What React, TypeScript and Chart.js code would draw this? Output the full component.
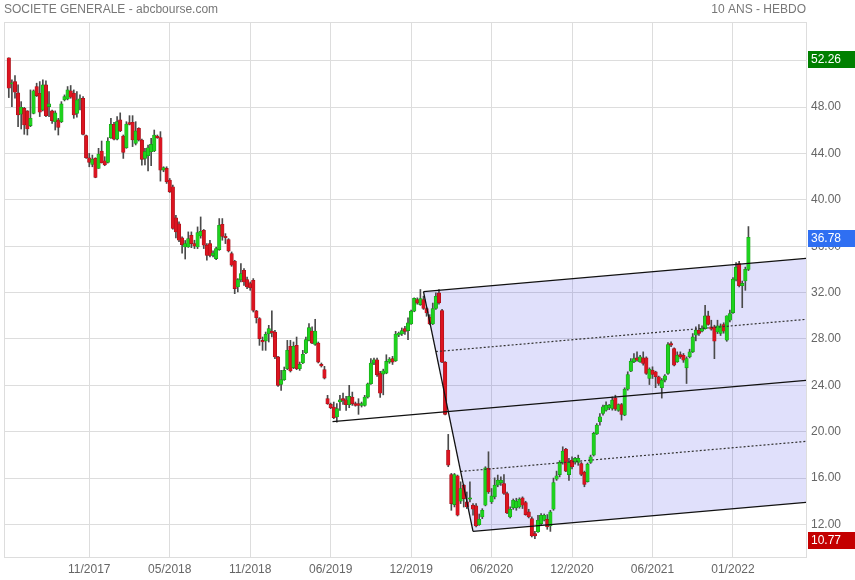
import React, { useEffect, useRef } from 'react';
import { Chart, registerables } from 'chart.js';

Chart.register(...registerables);

// Weekly candles (index 0 = first week shown)
const OPEN = [
  52.26, 50.0, 50.21, 49.23, 47.4, 47.91, 47.68, 46.41, 47.47, 49.78,
  49.2, 47.76, 49.92, 48.05, 47.68, 46.75, 46.9, 46.75, 48.63, 48.71,
  49.41, 49.2, 47.47, 48.63, 48.77, 45.54, 43.64, 43.06, 43.58, 42.72,
  44.22, 43.38, 43.24, 45.37, 46.52, 45.25, 46.9, 45.51, 44.5, 46.67,
  46.7, 44.88, 46.18, 45.17, 43.58, 43.81, 44.16, 44.22, 45.51, 45.37,
  42.57, 42.72, 41.71, 41.13, 38.45, 37.93, 36.72, 35.94, 35.94, 36.95,
  36.23, 35.94, 36.89, 37.38, 36.09, 36.23, 35.22, 34.94, 35.71, 37.9,
  36.86, 36.58, 35.37, 34.73, 32.49, 33.12, 33.93, 33.12, 32.78, 33.06,
  30.42, 29.76, 27.88, 27.83, 28.46, 28.69, 28.6, 26.45, 24.09, 24.49,
  25.44, 27.37, 25.53, 27.45, 25.44, 25.93, 26.79, 27.88, 28.69, 27.54,
  27.65, 25.81, 25.35, 22.85, 22.36, 22.13, 21.27, 22.56, 22.85, 22.76,
  22.33, 22.99, 22.42, 22.42, 22.27, 22.27, 22.99, 24.14, 25.92, 26.21,
  25.06, 24.97, 25.06, 26.01, 26.3, 26.12, 28.32, 28.43, 28.89, 28.72,
  29.3, 30.4, 31.4, 30.97, 31.4, 30.63, 29.88, 29.3, 30.63, 31.98,
  30.45, 26.0, 18.42, 16.31, 13.71, 16.2, 14.0, 15.39, 13.95, 14.17,
  13.66, 13.6, 11.98, 12.65, 13.66, 16.83, 13.94, 14.38, 15.39, 15.59,
  15.53, 14.67, 12.65, 13.43, 13.43, 13.51, 14.29, 13.89, 13.08, 12.5,
  11.2, 11.35, 12.07, 12.36, 12.44, 11.87, 13.31, 15.9, 16.3, 17.35,
  18.5, 16.3, 17.55, 17.4, 17.35, 17.26, 16.5, 15.7, 17.35, 17.98,
  19.8, 20.86, 21.57, 21.86, 22.06, 22.0, 22.93, 21.83, 22.35, 21.43,
  23.67, 25.22, 26.03, 26.37, 26.03, 26.37, 26.37, 24.6, 25.31, 25.17,
  24.74, 23.79, 24.45, 25.02, 27.61, 27.18, 26.03, 26.66, 26.6, 25.51,
  26.46, 26.89, 28.33, 28.76, 28.67, 28.9, 29.99, 29.05, 29.05, 28.61,
  28.47, 29.25, 27.9, 29.62, 30.28, 33.1, 34.5, 32.6, 33.0, 34.0,
];

const HIGH = [
  52.26, 50.36, 50.73, 49.92, 48.48, 47.99, 47.7, 49.49, 49.49, 50.07,
  50.21, 50.36, 50.27, 49.35, 47.76, 47.68, 47.04, 48.48, 49.06, 49.78,
  49.87, 49.49, 49.35, 49.06, 48.92, 45.6, 44.01, 43.87, 43.64, 44.45,
  45.08, 43.73, 45.37, 47.04, 46.7, 47.19, 47.51, 45.6, 46.75, 47.27,
  47.27, 46.75, 46.23, 45.25, 44.45, 44.74, 45.31, 46.03, 45.6, 45.89,
  42.86, 42.86, 41.85, 41.28, 38.68, 38.1, 36.81, 36.5, 37.24, 37.24,
  36.52, 37.67, 38.53, 37.45, 36.23, 36.52, 35.6, 35.94, 38.39, 38.39,
  37.09, 36.66, 35.51, 34.79, 33.21, 34.5, 34.07, 33.35, 32.92, 33.21,
  30.47, 29.84, 28.17, 28.6, 29.18, 30.42, 28.75, 26.5, 25.29, 25.58,
  27.88, 27.88, 27.74, 28.17, 26.01, 27.02, 28.17, 29.32, 29.05, 29.7,
  27.74, 25.93, 25.64, 23.14, 22.47, 22.56, 22.42, 23.14, 23.34, 23.05,
  24.0, 23.42, 22.56, 22.85, 22.56, 23.14, 24.2, 26.3, 26.35, 26.35,
  25.2, 25.4, 26.64, 26.4, 26.5, 28.66, 28.6, 28.95, 29.1, 29.82,
  30.5, 31.55, 31.55, 32.27, 31.7, 30.7, 30.1, 31.1, 31.98, 32.27,
  30.55, 26.05, 19.77, 16.4, 16.4, 16.26, 15.68, 15.45, 14.8, 15.68,
  13.8, 13.8, 12.9, 13.36, 16.98, 18.27, 15.1, 16.02, 16.26, 16.1,
  16.31, 14.8, 13.51, 14.2, 14.26, 14.3, 14.38, 14.0, 13.31, 12.65,
  11.4, 12.79, 12.94, 12.9, 12.85, 13.22, 16.0, 16.6, 17.5, 18.7,
  18.56, 17.7, 17.84, 17.8, 17.98, 17.35, 16.6, 17.3, 17.98, 19.95,
  20.7, 21.57, 22.3, 22.58, 22.35, 23.0, 23.15, 22.4, 22.44, 23.79,
  25.17, 26.32, 26.75, 26.89, 26.6, 26.89, 26.46, 25.51, 25.6, 25.22,
  24.8, 24.59, 24.94, 27.69, 27.75, 27.24, 26.89, 26.89, 26.75, 26.46,
  27.12, 28.47, 29.05, 29.25, 29.13, 30.9, 30.4, 29.62, 29.19, 29.62,
  29.3, 29.4, 30.0, 30.5, 33.3, 34.6, 34.7, 33.0, 34.2, 37.7,
];

const LOW = [
  48.83, 48.05, 48.77, 46.32, 46.12, 45.66, 45.6, 46.32, 47.42, 48.92,
  47.19, 47.68, 47.19, 47.19, 46.61, 46.03, 45.6, 46.67, 48.54, 48.63,
  48.77, 47.04, 47.13, 47.76, 45.6, 43.58, 42.86, 42.86, 41.91, 42.72,
  43.18, 42.95, 43.18, 45.31, 45.17, 45.17, 45.89, 43.58, 44.45, 46.47,
  44.6, 44.74, 45.08, 43.0, 43.01, 42.5, 42.95, 44.16, 45.31, 41.62,
  42.43, 41.42, 40.64, 37.47, 36.72, 36.4, 35.4, 34.9, 35.9, 35.88,
  35.8, 35.8, 36.7, 35.8, 34.79, 35.08, 35.08, 34.85, 35.65, 36.52,
  36.23, 35.51, 34.27, 31.91, 32.06, 32.92, 32.63, 32.35, 32.2, 30.33,
  29.38, 27.45, 27.02, 27.02, 27.74, 28.17, 26.3, 23.91, 23.57, 24.43,
  25.35, 25.15, 25.44, 25.35, 25.29, 25.87, 26.73, 27.83, 27.6, 27.45,
  25.93, 25.58, 24.55, 22.36, 21.99, 21.12, 20.83, 21.84, 22.36, 21.84,
  22.07, 22.27, 22.2, 21.5, 22.13, 22.2, 22.9, 24.09, 25.78, 24.77,
  22.95, 23.18, 25.0, 25.9, 25.8, 26.06, 28.2, 28.3, 28.4, 27.94,
  29.25, 30.35, 31.0, 30.9, 30.55, 29.96, 29.24, 29.24, 30.55, 31.0,
  25.95, 21.45, 16.98, 13.22, 13.51, 12.73, 13.8, 13.5, 13.37, 13.95,
  12.8, 11.78, 11.92, 12.5, 13.6, 14.67, 13.8, 14.2, 15.25, 15.37,
  14.58, 12.93, 12.56, 13.3, 13.22, 13.4, 13.37, 12.79, 12.56, 10.92,
  10.77, 11.3, 11.98, 12.3, 11.58, 11.4, 13.22, 15.8, 16.1, 17.2,
  16.55, 15.8, 16.8, 17.2, 17.1, 16.2, 15.25, 15.65, 17.26, 17.9,
  19.76, 20.57, 21.43, 21.78, 21.9, 21.86, 21.83, 21.75, 21.0, 21.38,
  23.58, 25.17, 25.95, 26.09, 25.98, 25.74, 24.94, 24.07, 24.59, 23.8,
  24.0, 22.9, 24.3, 24.94, 27.33, 25.68, 25.98, 26.32, 25.98, 24.16,
  26.37, 26.83, 27.84, 28.3, 28.61, 28.84, 29.19, 28.76, 26.3, 28.47,
  28.3, 28.5, 27.8, 29.47, 30.2, 33.0, 32.5, 30.7, 32.2, 33.9,
];

const CLOSE = [
  49.64, 50.1, 49.29, 47.33, 47.99, 46.47, 46.12, 47.04, 49.41, 49.0,
  47.56, 49.92, 47.27, 48.28, 46.84, 47.51, 46.26, 48.28, 48.92, 49.49,
  48.86, 47.33, 48.63, 48.71, 45.66, 43.64, 43.24, 43.52, 41.94, 43.96,
  43.21, 43.01, 45.08, 46.52, 45.25, 46.75, 45.95, 44.1, 46.55, 46.52,
  45.17, 45.95, 45.17, 43.5, 44.16, 44.5, 44.79, 45.6, 45.37, 42.57,
  42.78, 41.56, 40.7, 37.53, 37.24, 36.52, 36.14, 36.23, 36.66, 36.23,
  36.0, 37.18, 37.29, 36.09, 35.22, 35.22, 35.42, 35.8, 37.81, 36.86,
  36.75, 35.6, 34.36, 32.35, 33.12, 33.64, 32.92, 32.49, 32.43, 30.47,
  29.84, 28.03, 27.74, 28.4, 28.89, 28.52, 26.45, 24.0, 24.49, 25.29,
  27.02, 25.24, 27.37, 25.44, 25.81, 26.68, 27.94, 28.98, 27.65, 28.69,
  26.01, 25.67, 24.63, 22.42, 22.07, 21.21, 21.99, 22.76, 22.7, 22.33,
  23.05, 22.42, 22.27, 22.27, 22.42, 22.99, 24.14, 25.93, 26.21, 24.91,
  23.32, 25.26, 26.07, 26.27, 26.01, 28.43, 28.52, 28.72, 28.66, 29.39,
  30.4, 31.5, 31.1, 31.49, 30.63, 30.25, 29.3, 30.63, 31.69, 31.12,
  26.0, 21.5, 17.12, 13.8, 16.31, 12.79, 15.1, 14.23, 13.51, 14.29,
  13.31, 11.87, 12.44, 13.22, 16.89, 14.8, 14.46, 15.39, 15.82, 15.82,
  14.67, 12.99, 13.31, 14.09, 14.0, 14.18, 13.66, 12.85, 12.65, 11.0,
  11.0, 12.36, 12.79, 12.79, 11.78, 13.08, 15.62, 16.2, 17.35, 18.33,
  16.6, 17.35, 16.98, 17.7, 17.7, 16.32, 15.45, 17.2, 17.84, 19.85,
  20.57, 21.29, 22.15, 22.29, 22.29, 22.72, 21.95, 22.35, 21.49, 23.67,
  24.94, 26.09, 26.32, 26.17, 26.46, 25.89, 25.02, 25.4, 24.94, 24.74,
  24.16, 24.45, 24.82, 27.52, 27.47, 25.74, 26.6, 26.46, 26.17, 26.32,
  26.89, 28.18, 28.76, 28.47, 28.9, 29.99, 29.25, 28.84, 27.81, 29.13,
  29.13, 28.67, 30.0, 30.2, 33.16, 34.2, 32.6, 32.8, 34.0, 36.78,
];

// Axis ticks
const X_TICKS = [26, 52, 78, 104, 130, 156, 182, 208, 234];
const X_LABELS = ['11/2017', '05/2018', '11/2018', '06/2019', '12/2019', '06/2020', '12/2020', '06/2021', '01/2022'];
const Y_TICKS = [12, 16, 20, 24, 28, 32, 36, 40, 44, 48, 52];
const X_RANGE = [-1.55, 257.6];
const Y_RANGE = [9.19, 55.35];

// Andrews pitchfork pivots (week index, price)
const PIVOT_X = [104.6, 134, 150];
const PIVOT_Y = [20.87, 32.08, 11.4];

const TITLE = 'SOCIETE GENERALE - abcbourse.com';
const PERIOD = '10 ANS - HEBDO';
const FONT = '"Liberation Sans", Arial, sans-serif';

export default function App() {
  const ref = useRef<HTMLCanvasElement>(null);

  useEffect(() => {
    const canvas = ref.current;
    if (!canvas) return;
    const idx = CLOSE.map((_, i) => i);
    const up = idx.map((i) => CLOSE[i] >= OPEN[i]);
    const wicks = idx.map((i) => ({ x: i, y: [LOW[i], HIGH[i]] }));
    const bodies = idx.map((i) => ({ x: i, y: [OPEN[i], CLOSE[i]] }));

    const xEnd = X_RANGE[1];
    const [x1, x2, x3] = PIVOT_X;
    const [y1, y2, y3] = PIVOT_Y;
    const mx = (x2 + x3) / 2;
    const my = (y2 + y3) / 2;
    const slope = (my - y1) / (mx - x1);
    const ray = (x0: number, y0: number) => [
      { x: x0, y: y0 },
      { x: xEnd, y: y0 + slope * (xEnd - x0) },
    ];
    const q = (t: number) => ({ x: x2 + t * (x3 - x2), y: y2 + t * (y3 - y2) });
    const q1 = q(0.25);
    const q3 = q(0.75);
    const upper = ray(x2, y2);
    const lower = ray(x3, y3);
    const shape = [upper[0], upper[1], lower[1], lower[0], upper[0]];

    const lineDs = (data: any[], dashed: boolean) => ({
      type: 'line' as const,
      data,
      borderColor: dashed ? '#333' : '#111',
      borderWidth: dashed ? 1.2 : 1.3,
      borderDash: dashed ? [2, 2] : [],
      pointRadius: 0,
      fill: false,
      tension: 0,
      order: 1,
    });

    const maxV = Math.max(...HIGH);
    const minV = Math.min(...LOW);
    const lastV = CLOSE[CLOSE.length - 1];

    const overlay = {
      id: 'overlay',
      beforeDatasetsDraw(chart: any) {
        const { ctx, chartArea: a } = chart;
        ctx.save();
        ctx.strokeStyle = '#dddddd';
        ctx.lineWidth = 1;
        ctx.strokeRect(a.left + 0.5, a.top + 0.5, a.right - a.left, a.bottom - a.top);
        ctx.restore();
      },
      afterDraw(chart: any) {
        const { ctx, chartArea: a, width } = chart;
        const ys = chart.scales.y;
        ctx.save();
        ctx.font = `12px ${FONT}`;
        ctx.fillStyle = '#777777';
        ctx.textBaseline = 'alphabetic';
        ctx.textAlign = 'left';
        ctx.fillText(TITLE, a.left, 13);
        ctx.textAlign = 'right';
        ctx.fillText(PERIOD, a.right, 13);
        const box = (v: number, color: string) => {
          const py = ys.getPixelForValue(v);
          const top = Math.round(py - 7);
          ctx.fillStyle = color;
          ctx.fillRect(a.right + 2, top, width - a.right - 2, 17);
          ctx.fillStyle = '#ffffff';
          ctx.font = `12px ${FONT}`;
          ctx.textAlign = 'left';
          ctx.textBaseline = 'middle';
          ctx.fillText(v.toFixed(2), a.right + 5, top + 9);
        };
        box(maxV, '#008000');
        box(lastV, '#2f6ff2');
        box(minV, '#c40000');
        ctx.restore();
      },
    };

    const chart = new Chart(canvas, {
      type: 'bar',
      data: {
        datasets: [
          {
            type: 'line',
            data: shape,
            fill: 'shape',
            backgroundColor: 'rgba(0,0,221,0.12)',
            borderWidth: 0,
            pointRadius: 0,
            tension: 0,
            order: 10,
          } as any,
          {
            type: 'bar',
            data: wicks as any,
            backgroundColor: '#4a4a4a',
            barThickness: 1,
            grouped: false,
            minBarLength: 1,
            order: 6,
          } as any,
          {
            type: 'bar',
            data: bodies as any,
            backgroundColor: up.map((u) => (u ? '#1ed21e' : '#dc1420')),
            borderColor: up.map((u) => (u ? '#139a13' : '#a01018')),
            borderWidth: 0.6,
            borderSkipped: false,
            barThickness: 3.5,
            grouped: false,
            minBarLength: 1,
            order: 5,
          } as any,
          lineDs([{ x: x2, y: y2 }, { x: x3, y: y3 }], false),
          lineDs(upper, false),
          lineDs(lower, false),
          lineDs(ray(x1, y1), false),
          lineDs(ray(q1.x, q1.y), true),
          lineDs(ray(q3.x, q3.y), true),
        ] as any,
      },
      plugins: [overlay],
      options: {
        responsive: false,
        animation: false,
        devicePixelRatio: 1,
        events: [],
        layout: { padding: { left: 4, top: 22, right: 0, bottom: 0 } },
        plugins: { legend: { display: false }, tooltip: { enabled: false } },
        scales: {
          x: {
            type: 'linear',
            min: X_RANGE[0],
            max: X_RANGE[1],
            offset: false,
            grid: { color: '#dddddd', drawTicks: false, offset: false },
            border: { display: false },
            ticks: {
              autoSkip: false,
              maxRotation: 0,
              padding: 5,
              color: '#666666',
              font: { family: FONT, size: 12 },
              callback: (_v: any, i: number) => X_LABELS[i],
            },
            afterBuildTicks: (s: any) => {
              s.ticks = X_TICKS.map((v) => ({ value: v }));
            },
            afterFit: (s: any) => {
              s.height = 23;
            },
          },
          y: {
            type: 'linear',
            position: 'right',
            min: Y_RANGE[0],
            max: Y_RANGE[1],
            grid: { color: '#dddddd', drawTicks: false },
            border: { display: false },
            ticks: {
              padding: 5,
              color: '#666666',
              font: { family: FONT, size: 12 },
              callback: (v: any) => Number(v).toFixed(2),
            },
            afterBuildTicks: (s: any) => {
              s.ticks = Y_TICKS.map((v) => ({ value: v }));
            },
            afterFit: (s: any) => {
              s.width = 49;
            },
          },
        },
      } as any,
    });
    return () => chart.destroy();
  }, []);

  return (
    <div style={{ position: 'absolute', left: 0, top: 0, width: 855, height: 580, background: '#ffffff' }}>
      <canvas ref={ref} width={855} height={580} style={{ display: 'block', width: 855, height: 580 }} />
    </div>
  );
}
